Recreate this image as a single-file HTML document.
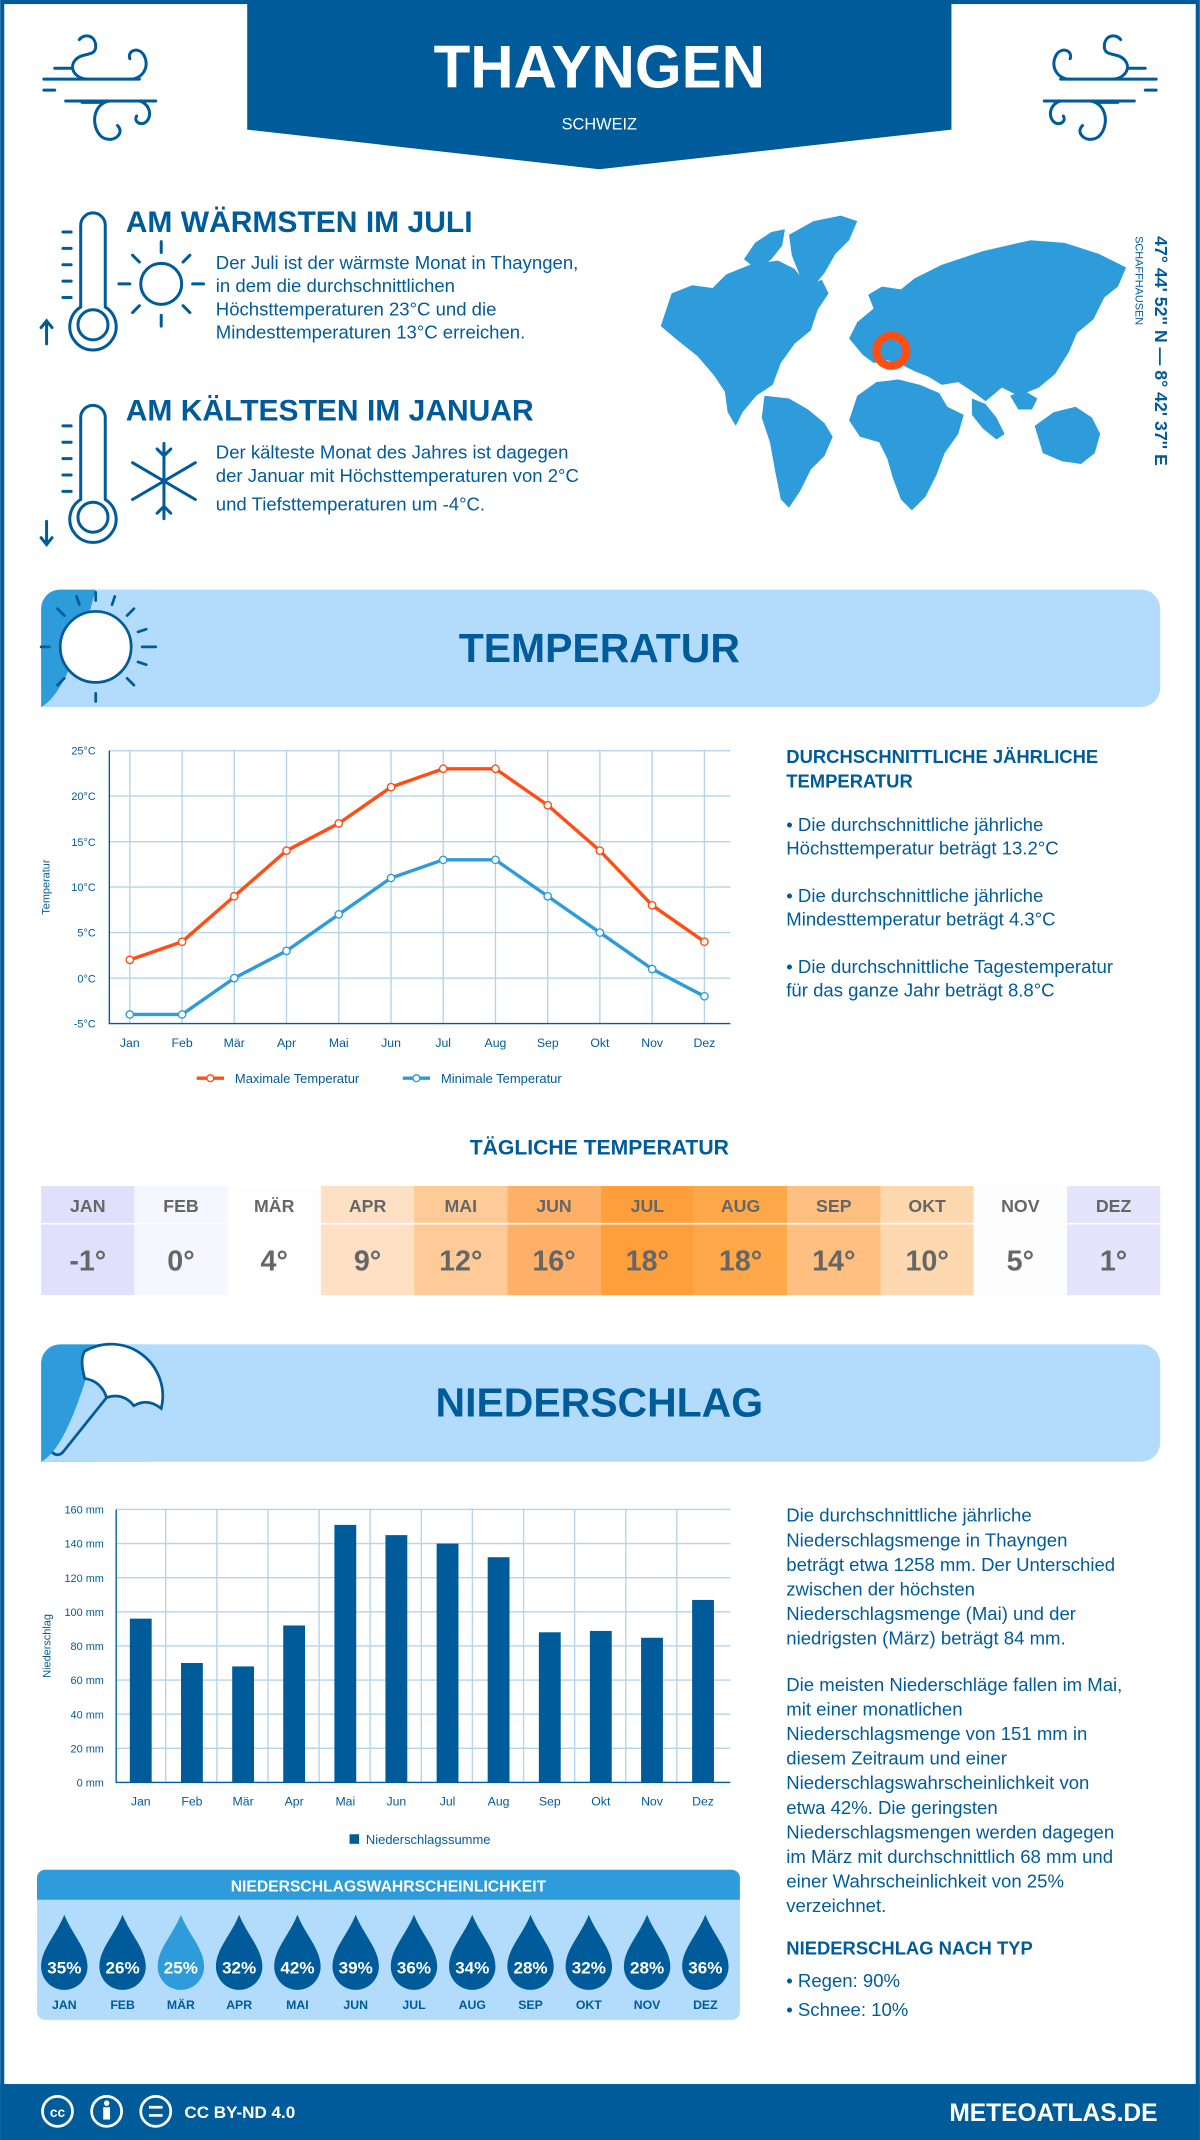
<!DOCTYPE html>
<html><head><meta charset="utf-8"><style>html,body{margin:0;padding:0;background:#fff}svg{display:block}</style></head>
<body>
<svg xmlns="http://www.w3.org/2000/svg" width="1200" height="2140" viewBox="0 0 879 1568" font-family="Liberation Sans, DejaVu Sans, sans-serif">
<rect x="0" y="0" width="879" height="1568" fill="#fff"/>
<rect x="1.5" y="1.5" width="876" height="1565" fill="none" stroke="#005b9a" stroke-width="3"/>
<polygon points="181,0 697,0 697,95 439,124 181,95" fill="#005b9a"/>
<text x="439" y="64" text-anchor="middle" font-size="44" font-weight="bold" fill="#fff">THAYNGEN</text>
<text x="439" y="95" text-anchor="middle" font-size="12" fill="#fff">SCHWEIZ</text>
<g fill="none" stroke="#005b9a" stroke-width="2.2" stroke-linecap="round">
<path d="M32,58 h70 M48,74 h66 M32,66 h8 M40,50 h12 M60,75 h14"/>
<path d="M65,58 c-10,0 -15,-8 -10,-14 c5,-6 15,-2 15,-10 c0,-8 -8,-10 -12,-5"/>
<path d="M95,58 c10,0 15,-10 10,-18 c-4,-6 -12,-3 -10,3"/>
<path d="M80,74 c-12,2 -14,18 -6,26 c8,6 18,-2 12,-8"/>
<path d="M102,74 c8,2 10,12 4,16 c-5,2 -8,-2 -6,-5"/>
<path d="M847,58 h-70 M831,74 h-66 M847,66 h-8 M839,50 h-12 M819,75 h-14"/>
<path d="M814,58 c10,0 15,-8 10,-14 c-5,-6 -15,-2 -15,-10 c0,-8 8,-10 12,-5"/>
<path d="M784,58 c-10,0 -15,-10 -10,-18 c4,-6 12,-3 10,3"/>
<path d="M799,74 c12,2 14,18 6,26 c-8,6 -18,-2 -12,-8"/>
<path d="M777,74 c-8,2 -10,12 -4,16 c5,2 8,-2 6,-5"/>
</g>
<g fill="none" stroke="#005b9a" stroke-width="2.2" stroke-linecap="round">
<path d="M59,165 a9,9 0 0 1 18,0 v60 a17,17 0 1 1 -18,0 z"/>
<circle cx="68" cy="238" r="11"/>
<path d="M46,170 h6 M46,182 h6 M46,194 h6 M46,206 h6 M46,218 h6 M34,252 v-17 M30,240 l4,-5 4,5"/>
<circle cx="118" cy="208" r="15"/>
<path d="M118,185 v-8 M118,231 v8 M95,208 h-8 M141,208 h8 M102,192 l-5,-5 M134,192 l5,-5 M102,224 l-5,5 M134,224 l5,5"/>
<path d="M59,306 a9,9 0 0 1 18,0 v60 a17,17 0 1 1 -18,0 z"/>
<circle cx="68" cy="379" r="11"/>
<path d="M46,312 h6 M46,324 h6 M46,336 h6 M46,348 h6 M46,360 h6 M34,382 v17 M30,394 l4,5 4,-5"/>
<path d="M120,325 v55 M97,339 l46,27 M97,366 l46,-27 M115,329 l5,5 5,-5 M115,376 l5,-5 5,5"/>
</g>
<text x="92" y="170" font-size="22" font-weight="bold" fill="#005b9a">AM WÄRMSTEN IM JULI</text>
<g font-size="13.6" fill="#005b9a">
<text x="158" y="197">Der Juli ist der wärmste Monat in Thayngen,</text>
<text x="158" y="214">in dem die durchschnittlichen</text>
<text x="158" y="231">Höchsttemperaturen 23°C und die</text>
<text x="158" y="248">Mindesttemperaturen 13°C erreichen.</text>
</g>
<text x="92" y="308" font-size="22" font-weight="bold" fill="#005b9a">AM KÄLTESTEN IM JANUAR</text>
<g font-size="13.6" fill="#005b9a">
<text x="158" y="336">Der kälteste Monat des Jahres ist dagegen</text>
<text x="158" y="353">der Januar mit Höchsttemperaturen von 2°C</text>
<text x="158" y="374">und Tiefsttemperaturen um -4°C.</text>
</g>
<!-- map -->
<g fill="#2e9cdb">
<path d="M492,215 l15,-6 15,2 10,-10 20,-8 18,-2 12,6 10,12 10,-4 5,10 -8,12 -5,15 -12,10 -10,14 -6,16 -12,8 -10,12 -5,10 -6,-10 -2,-15 -8,-12 -12,-14 -15,-12 -12,-10 z"/>
<path d="M545,190 l8,-12 12,-8 10,-2 -2,12 -8,10 -10,8 z"/>
<path d="M578,172 l18,-10 20,-4 12,4 -6,14 -10,10 -8,14 -10,12 -8,-10 -6,-15 z"/>
<path d="M560,290 l18,2 14,8 12,10 6,10 -6,14 -10,10 -8,16 -8,12 -6,-6 -4,-20 -4,-22 -6,-18 z"/>
<path d="M622,248 l6,-12 12,-10 -4,-10 10,-6 14,2 10,-8 20,-10 30,-10 35,-8 25,2 25,8 20,10 -6,14 -10,8 -8,16 -12,10 -6,14 -10,16 -12,10 -15,6 -12,-6 -12,10 -8,-6 -12,-8 -12,2 -10,-6 -10,-4 -8,-4 -12,-4 -10,2 -8,-6 z"/>
<path d="M628,290 l14,-10 16,-2 16,4 14,6 6,10 12,6 -4,14 -10,14 -6,16 -8,16 -10,10 -8,-8 -6,-16 -4,-14 -6,-12 -14,-4 -8,-12 z"/>
<path d="M758,312 l14,-10 16,-4 12,8 6,12 -4,14 -10,8 -14,-2 -14,-6 z"/>
<path d="M712,292 l10,4 8,10 6,12 -6,4 -10,-8 -8,-10 z"/>
<path d="M740,290 l10,-4 10,6 -4,8 -10,0 z"/>
</g>
<circle cx="653" cy="257" r="11" fill="none" stroke="#ff4e14" stroke-width="6"/>
<text transform="translate(846,173) rotate(90)" font-size="13" font-weight="bold" fill="#005b9a">47° 44' 52'' N — 8° 42' 37'' E</text>
<text transform="translate(832,173) rotate(90)" font-size="8" fill="#005b9a">SCHAFFHAUSEN</text>
<rect x="30" y="432" width="820" height="86" rx="14" fill="#b3dcfc"/>
<path d="M44,432 h26 v86 h-40 v-72 a14,14 0 0 1 14,-14z" fill="#2e9cdb"/>
<path d="M70,432 h40 v86 h-80 q20,-10 40,-86z" fill="#b3dcfc"/>
<circle cx="70" cy="474" r="26" fill="#fff" stroke="#005b9a" stroke-width="2"/>
<g stroke="#005b9a" stroke-width="2" stroke-linecap="round"><path d="M70,440 v-6 M70,508 v6 M36,474 h-6 M104,474 h10 M47,451 l-5,-5 M93,451 l5,-5 M47,497 l-5,5 M93,497 l5,5 M58,443 l-2,-6 M82,443 l2,-6 M101,463 l6,-2 M101,485 l6,2"/></g>
<text x="439" y="485" text-anchor="middle" font-size="30" font-weight="bold" fill="#005b9a">TEMPERATUR</text>
<g stroke="#b5d3ea" stroke-width="1">
<path d="M80,550 H535 M80,583.3 H535 M80,616.7 H535 M80,650 H535 M80,683.3 H535 M80,716.7 H535"/>
<path d="M95,550 V750 M133.3,550 V750 M171.5,550 V750 M209.8,550 V750 M248.1,550 V750 M286.4,550 V750 M324.6,550 V750 M362.9,550 V750 M401.2,550 V750 M439.4,550 V750 M477.7,550 V750 M516,550 V750"/>
</g>
<path d="M80,550 V750 H535" fill="none" stroke="#005b9a" stroke-width="1"/>
<g font-size="8" fill="#005b9a" text-anchor="end">
<text x="70" y="553">25°C</text><text x="70" y="586">20°C</text><text x="70" y="620">15°C</text><text x="70" y="653">10°C</text><text x="70" y="686">5°C</text><text x="70" y="720">0°C</text><text x="70" y="753">-5°C</text>
</g>
<text transform="translate(36,650) rotate(-90)" font-size="8" fill="#005b9a" text-anchor="middle">Temperatur</text>
<g font-size="9" fill="#005b9a" text-anchor="middle">
<text x="95" y="767">Jan</text><text x="133.3" y="767">Feb</text><text x="171.5" y="767">Mär</text><text x="209.8" y="767">Apr</text><text x="248.1" y="767">Mai</text><text x="286.4" y="767">Jun</text><text x="324.6" y="767">Jul</text><text x="362.9" y="767">Aug</text><text x="401.2" y="767">Sep</text><text x="439.4" y="767">Okt</text><text x="477.7" y="767">Nov</text><text x="516" y="767">Dez</text>
</g>
<polyline fill="none" stroke="#ff4e14" stroke-width="2.5" points="95,703.3 133.3,690 171.5,656.7 209.8,623.3 248.1,603.3 286.4,576.7 324.6,563.3 362.9,563.3 401.2,590 439.4,623.3 477.7,663.3 516,690"/>
<polyline fill="none" stroke="#2e9cdb" stroke-width="2.5" points="95,743.3 133.3,743.3 171.5,716.7 209.8,696.7 248.1,670 286.4,643.3 324.6,630 362.9,630 401.2,656.7 439.4,683.3 477.7,710 516,730"/>
<g fill="#fff" stroke="#ff4e14" stroke-width="1">
<circle cx="95" cy="703.3" r="2.7"/><circle cx="133.3" cy="690" r="2.7"/><circle cx="171.5" cy="656.7" r="2.7"/><circle cx="209.8" cy="623.3" r="2.7"/><circle cx="248.1" cy="603.3" r="2.7"/><circle cx="286.4" cy="576.7" r="2.7"/><circle cx="324.6" cy="563.3" r="2.7"/><circle cx="362.9" cy="563.3" r="2.7"/><circle cx="401.2" cy="590" r="2.7"/><circle cx="439.4" cy="623.3" r="2.7"/><circle cx="477.7" cy="663.3" r="2.7"/><circle cx="516" cy="690" r="2.7"/>
</g>
<g fill="#fff" stroke="#2e9cdb" stroke-width="1">
<circle cx="95" cy="743.3" r="2.7"/><circle cx="133.3" cy="743.3" r="2.7"/><circle cx="171.5" cy="716.7" r="2.7"/><circle cx="209.8" cy="696.7" r="2.7"/><circle cx="248.1" cy="670" r="2.7"/><circle cx="286.4" cy="643.3" r="2.7"/><circle cx="324.6" cy="630" r="2.7"/><circle cx="362.9" cy="630" r="2.7"/><circle cx="401.2" cy="656.7" r="2.7"/><circle cx="439.4" cy="683.3" r="2.7"/><circle cx="477.7" cy="710" r="2.7"/><circle cx="516" cy="730" r="2.7"/>
</g>
<path d="M144,790 h20" stroke="#ff4e14" stroke-width="2.5"/><circle cx="154" cy="790" r="2.5" fill="#fff" stroke="#ff4e14"/>
<text x="172" y="793.5" font-size="9.5" fill="#005b9a">Maximale Temperatur</text>
<path d="M295,790 h20" stroke="#2e9cdb" stroke-width="2.5"/><circle cx="305" cy="790" r="2.5" fill="#fff" stroke="#2e9cdb"/>
<text x="323" y="793.5" font-size="9.5" fill="#005b9a">Minimale Temperatur</text>
<text x="576" y="559" font-size="13.5" font-weight="bold" fill="#005b9a">DURCHSCHNITTLICHE JÄHRLICHE</text>
<text x="576" y="577" font-size="13.5" font-weight="bold" fill="#005b9a">TEMPERATUR</text>
<g font-size="13.6" fill="#005b9a">
<text x="576" y="609">• Die durchschnittliche jährliche</text>
<text x="576" y="626">Höchsttemperatur beträgt 13.2°C</text>
<text x="576" y="661">• Die durchschnittliche jährliche</text>
<text x="576" y="678">Mindesttemperatur beträgt 4.3°C</text>
<text x="576" y="713">• Die durchschnittliche Tagestemperatur</text>
<text x="576" y="730">für das ganze Jahr beträgt 8.8°C</text>
</g>
<text x="439" y="846" text-anchor="middle" font-size="15.5" font-weight="bold" fill="#005b9a">TÄGLICHE TEMPERATUR</text>
<g>
<rect x="30" y="869" width="68.4" height="80" fill="#e0e0fc"/>
<rect x="98.3" y="869" width="68.4" height="80" fill="#f5f6fe"/>
<rect x="166.7" y="869" width="68.4" height="80" fill="#fefefe"/>
<rect x="235" y="869" width="68.4" height="80" fill="#fee0c4"/>
<rect x="303.3" y="869" width="68.4" height="80" fill="#fecb98"/>
<rect x="371.7" y="869" width="68.4" height="80" fill="#feb068"/>
<rect x="440" y="869" width="68.4" height="80" fill="#fe9f3c"/>
<rect x="508.3" y="869" width="68.4" height="80" fill="#fea84a"/>
<rect x="576.7" y="869" width="68.4" height="80" fill="#febf80"/>
<rect x="645" y="869" width="68.4" height="80" fill="#fed9b0"/>
<rect x="713.3" y="869" width="68.4" height="80" fill="#fdfdfd"/>
<rect x="781.7" y="869" width="68.3" height="80" fill="#e4e4fc"/>
<rect x="30" y="896" width="820" height="1.2" fill="#fff"/>
</g>
<g font-size="13" font-weight="bold" fill="#666" text-anchor="middle">
<text x="64.2" y="888">JAN</text><text x="132.5" y="888">FEB</text><text x="200.8" y="888">MÄR</text><text x="269.2" y="888">APR</text><text x="337.5" y="888">MAI</text><text x="405.8" y="888">JUN</text><text x="474.2" y="888">JUL</text><text x="542.5" y="888">AUG</text><text x="610.8" y="888">SEP</text><text x="679.2" y="888">OKT</text><text x="747.5" y="888">NOV</text><text x="815.8" y="888">DEZ</text>
</g>
<g font-size="21" font-weight="bold" fill="#666" text-anchor="middle">
<text x="64.2" y="931">-1°</text><text x="132.5" y="931">0°</text><text x="200.8" y="931">4°</text><text x="269.2" y="931">9°</text><text x="337.5" y="931">12°</text><text x="405.8" y="931">16°</text><text x="474.2" y="931">18°</text><text x="542.5" y="931">18°</text><text x="610.8" y="931">14°</text><text x="679.2" y="931">10°</text><text x="747.5" y="931">5°</text><text x="815.8" y="931">1°</text>
</g>
<rect x="30" y="985" width="820" height="86" rx="14" fill="#b3dcfc"/>
<path d="M44,985 h26 v86 h-40 v-72 a14,14 0 0 1 14,-14z" fill="#2e9cdb"/>
<path d="M70,985 h40 v86 h-80 q20,-10 40,-86z" fill="#b3dcfc"/>
<path d="M62,990 a38,38 0 0 1 56,42 q-10,-8 -20,-2 q-8,-10 -20,-6 q-4,-12 -16,-14 q-4,-14 0,-20z" fill="#fff" stroke="#005b9a" stroke-width="2"/>
<path d="M78,1024 l-32,40 q-4,4 -8,0" fill="none" stroke="#005b9a" stroke-width="2"/>
<text x="439" y="1038" text-anchor="middle" font-size="30" font-weight="bold" fill="#005b9a">NIEDERSCHLAG</text>
<g stroke="#b5d3ea" stroke-width="1">
<path d="M85,1106 H535 M85,1131 H535 M85,1156 H535 M85,1181 H535 M85,1206 H535 M85,1231 H535 M85,1256 H535 M85,1281 H535"/>
<path d="M121.3,1106 V1306 M158.8,1106 V1306 M196.2,1106 V1306 M233.7,1106 V1306 M271.1,1106 V1306 M308.6,1106 V1306 M346,1106 V1306 M383.5,1106 V1306 M420.9,1106 V1306 M458.4,1106 V1306 M495.8,1106 V1306"/>
</g>
<path d="M85,1106 V1306 H535" fill="none" stroke="#005b9a" stroke-width="1"/>
<g font-size="8" fill="#005b9a" text-anchor="end">
<text x="76" y="1109">160 mm</text><text x="76" y="1134">140 mm</text><text x="76" y="1159">120 mm</text><text x="76" y="1184">100 mm</text><text x="76" y="1209">80 mm</text><text x="76" y="1234">60 mm</text><text x="76" y="1259">40 mm</text><text x="76" y="1284">20 mm</text><text x="76" y="1309">0 mm</text>
</g>
<text transform="translate(37,1206) rotate(-90)" font-size="8" fill="#005b9a" text-anchor="middle">Niederschlag</text>
<g fill="#005b9a">
<rect x="95" y="1186" width="16" height="120"/>
<rect x="132.5" y="1218.5" width="16" height="87.5"/>
<rect x="170" y="1221" width="16" height="85"/>
<rect x="207.4" y="1191" width="16" height="115"/>
<rect x="244.9" y="1117.3" width="16" height="188.7"/>
<rect x="282.3" y="1124.8" width="16" height="181.2"/>
<rect x="319.8" y="1131" width="16" height="175"/>
<rect x="357.2" y="1141" width="16" height="165"/>
<rect x="394.7" y="1196" width="16" height="110"/>
<rect x="432.1" y="1195" width="16" height="111"/>
<rect x="469.6" y="1200" width="16" height="106"/>
<rect x="507" y="1172.3" width="16" height="133.7"/>
</g>
<g font-size="9" fill="#005b9a" text-anchor="middle">
<text x="103" y="1323">Jan</text><text x="140.5" y="1323">Feb</text><text x="178" y="1323">Mär</text><text x="215.4" y="1323">Apr</text><text x="252.9" y="1323">Mai</text><text x="290.3" y="1323">Jun</text><text x="327.8" y="1323">Jul</text><text x="365.2" y="1323">Aug</text><text x="402.7" y="1323">Sep</text><text x="440.1" y="1323">Okt</text><text x="477.6" y="1323">Nov</text><text x="515" y="1323">Dez</text>
</g>
<rect x="256" y="1344" width="7" height="7" fill="#005b9a"/>
<text x="268" y="1351" font-size="9.5" fill="#005b9a">Niederschlagssumme</text>
<rect x="27" y="1370" width="515" height="110" rx="6" fill="#b3dcfc"/>
<path d="M27,1392 v-16 a6,6 0 0 1 6,-6 h503 a6,6 0 0 1 6,6 v16z" fill="#2e9cdb"/>
<text x="284.5" y="1386" text-anchor="middle" font-size="11.5" font-weight="bold" fill="#fff">NIEDERSCHLAGSWAHRSCHEINLICHKEIT</text>
<g>
<path d="M47,1403 C41,1418 30,1428 30,1441 a17,17 0 0 0 34,0 C64,1428 53,1418 47,1403z" fill="#005b9a"/>
<path d="M89.7,1403 C83.7,1418 72.7,1428 72.7,1441 a17,17 0 0 0 34,0 C106.7,1428 95.7,1418 89.7,1403z" fill="#005b9a"/>
<path d="M132.4,1403 C126.4,1418 115.4,1428 115.4,1441 a17,17 0 0 0 34,0 C149.4,1428 138.4,1418 132.4,1403z" fill="#2e9cdb"/>
<path d="M175.1,1403 C169.1,1418 158.1,1428 158.1,1441 a17,17 0 0 0 34,0 C192.1,1428 181.1,1418 175.1,1403z" fill="#005b9a"/>
<path d="M217.8,1403 C211.8,1418 200.8,1428 200.8,1441 a17,17 0 0 0 34,0 C234.8,1428 223.8,1418 217.8,1403z" fill="#005b9a"/>
<path d="M260.5,1403 C254.5,1418 243.5,1428 243.5,1441 a17,17 0 0 0 34,0 C277.5,1428 266.5,1418 260.5,1403z" fill="#005b9a"/>
<path d="M303.2,1403 C297.2,1418 286.2,1428 286.2,1441 a17,17 0 0 0 34,0 C320.2,1428 309.2,1418 303.2,1403z" fill="#005b9a"/>
<path d="M345.9,1403 C339.9,1418 328.9,1428 328.9,1441 a17,17 0 0 0 34,0 C362.9,1428 351.9,1418 345.9,1403z" fill="#005b9a"/>
<path d="M388.6,1403 C382.6,1418 371.6,1428 371.6,1441 a17,17 0 0 0 34,0 C405.6,1428 394.6,1418 388.6,1403z" fill="#005b9a"/>
<path d="M431.3,1403 C425.3,1418 414.3,1428 414.3,1441 a17,17 0 0 0 34,0 C448.3,1428 437.3,1418 431.3,1403z" fill="#005b9a"/>
<path d="M474,1403 C468,1418 457,1428 457,1441 a17,17 0 0 0 34,0 C491,1428 480,1418 474,1403z" fill="#005b9a"/>
<path d="M516.7,1403 C510.7,1418 499.7,1428 499.7,1441 a17,17 0 0 0 34,0 C533.7,1428 522.7,1418 516.7,1403z" fill="#005b9a"/>
</g>
<g font-size="12.5" font-weight="bold" fill="#fff" text-anchor="middle">
<text x="47" y="1446">35%</text><text x="89.7" y="1446">26%</text><text x="132.4" y="1446">25%</text><text x="175.1" y="1446">32%</text><text x="217.8" y="1446">42%</text><text x="260.5" y="1446">39%</text><text x="303.2" y="1446">36%</text><text x="345.9" y="1446">34%</text><text x="388.6" y="1446">28%</text><text x="431.3" y="1446">32%</text><text x="474" y="1446">28%</text><text x="516.7" y="1446">36%</text>
</g>
<g font-size="9" font-weight="bold" fill="#005b9a" text-anchor="middle">
<text x="47" y="1472">JAN</text><text x="89.7" y="1472">FEB</text><text x="132.4" y="1472">MÄR</text><text x="175.1" y="1472">APR</text><text x="217.8" y="1472">MAI</text><text x="260.5" y="1472">JUN</text><text x="303.2" y="1472">JUL</text><text x="345.9" y="1472">AUG</text><text x="388.6" y="1472">SEP</text><text x="431.3" y="1472">OKT</text><text x="474" y="1472">NOV</text><text x="516.7" y="1472">DEZ</text>
</g>
<g font-size="13.6" fill="#005b9a">
<text x="576" y="1115">Die durchschnittliche jährliche</text>
<text x="576" y="1133">Niederschlagsmenge in Thayngen</text>
<text x="576" y="1151">beträgt etwa 1258 mm. Der Unterschied</text>
<text x="576" y="1169">zwischen der höchsten</text>
<text x="576" y="1187">Niederschlagsmenge (Mai) und der</text>
<text x="576" y="1205">niedrigsten (März) beträgt 84 mm.</text>
<text x="576" y="1239">Die meisten Niederschläge fallen im Mai,</text>
<text x="576" y="1257">mit einer monatlichen</text>
<text x="576" y="1275">Niederschlagsmenge von 151 mm in</text>
<text x="576" y="1293">diesem Zeitraum und einer</text>
<text x="576" y="1311">Niederschlagswahrscheinlichkeit von</text>
<text x="576" y="1329">etwa 42%. Die geringsten</text>
<text x="576" y="1347">Niederschlagsmengen werden dagegen</text>
<text x="576" y="1365">im März mit durchschnittlich 68 mm und</text>
<text x="576" y="1383">einer Wahrscheinlichkeit von 25%</text>
<text x="576" y="1401">verzeichnet.</text>
</g>
<text x="576" y="1432" font-size="13.5" font-weight="bold" fill="#005b9a">NIEDERSCHLAG NACH TYP</text>
<g font-size="13.6" fill="#005b9a">
<text x="576" y="1456">• Regen: 90%</text>
<text x="576" y="1477">• Schnee: 10%</text>
</g>
<rect x="0" y="1527" width="879" height="41" fill="#005b9a"/>
<g fill="none" stroke="#fff" stroke-width="2">
<circle cx="42" cy="1547" r="11"/><circle cx="78" cy="1547" r="11"/><circle cx="114" cy="1547" r="11"/>
<path d="M109,1544 h10 M109,1550 h10"/>
</g>
<text x="42" y="1551" text-anchor="middle" font-size="10" font-weight="bold" fill="#fff">cc</text>
<circle cx="78" cy="1541" r="2" fill="#fff"/><rect x="75.5" y="1544" width="5" height="9" fill="#fff"/>
<text x="135" y="1552" font-size="12.5" font-weight="bold" fill="#fff">CC BY-ND 4.0</text>
<text x="848" y="1554" text-anchor="end" font-size="18" font-weight="bold" fill="#fff">METEOATLAS.DE</text>
</svg>
</body></html>
